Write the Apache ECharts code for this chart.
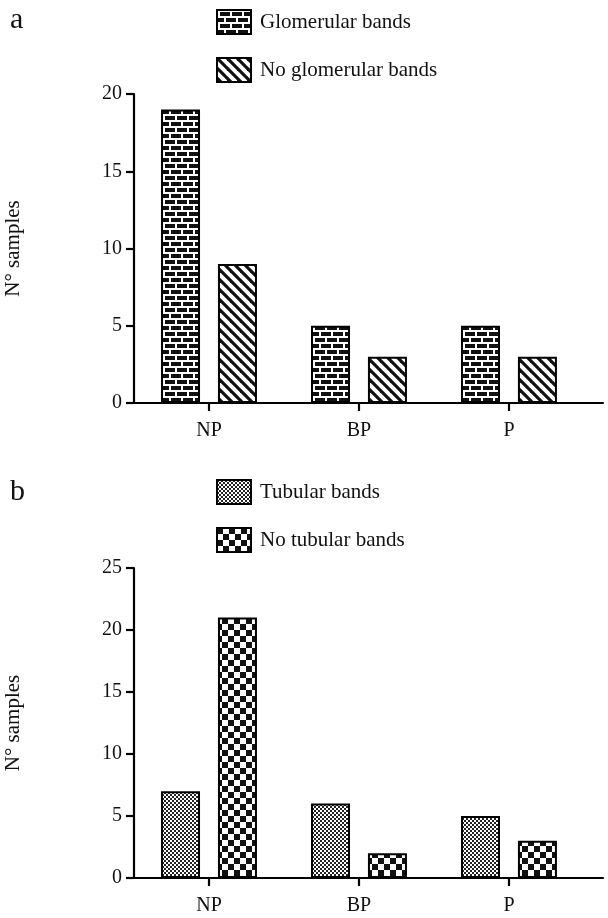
<!DOCTYPE html>
<html>
<head>
<meta charset="utf-8">
<script src="https://cdn.jsdelivr.net/npm/echarts@6/dist/echarts.min.js"></script>
<style>
html,body{margin:0;padding:0;background:#fff;}
#chart{width:608px;height:918px;}
</style>
</head>
<body>
<div id="chart"></div>
<script>
// ---- data ----
const categories = ['NP', 'BP', 'P'];
const catPositions = [0.5, 1.5, 2.5];
const glomerular = [19, 5, 5];
const noGlomerular = [9, 3, 3];
const tubular = [7, 6, 5];
const noTubular = [21, 2, 3];
const yTicksA = [0, 5, 10, 15, 20];
const yTicksB = [0, 5, 10, 15, 20, 25];
const namesA = ['Glomerular bands', 'No glomerular bands'];
const namesB = ['Tubular bands', 'No tubular bands'];

// ---- patterns ----
function mk(w, h, draw) {
  const c = document.createElement('canvas');
  c.width = w; c.height = h;
  draw(c.getContext('2d'));
  return { image: c, repeat: 'repeat' };
}
const brick = mk(12, 12, g => {
  g.fillStyle = '#111'; g.fillRect(0, 0, 12, 12);
  g.fillStyle = '#fff';
  g.fillRect(0, 0, 12, 2); g.fillRect(0, 6, 12, 2);
  g.fillRect(1, 2, 2, 4); g.fillRect(7, 8, 2, 4);
});
const hatch = mk(10, 10, g => {
  g.fillStyle = '#fff'; g.fillRect(0, 0, 10, 10);
  g.strokeStyle = '#111'; g.lineWidth = 3.2;
  for (let k = -1; k <= 1; k++) {
    g.beginPath(); g.moveTo(k * 10 - 2, -2); g.lineTo(k * 10 + 12, 12); g.stroke();
  }
});
const fine = mk(4, 4, g => {
  g.fillStyle = '#fff'; g.fillRect(0, 0, 4, 4);
  g.fillStyle = '#222'; g.fillRect(0, 0, 2, 2); g.fillRect(2, 2, 2, 2);
});
const coarse = mk(12, 12, g => {
  g.fillStyle = '#fff'; g.fillRect(0, 0, 12, 12);
  g.fillStyle = '#111'; g.fillRect(0, 0, 6, 6); g.fillRect(6, 6, 6, 6);
});

const FONT = "'Liberation Serif', 'Times New Roman', serif";
const INK = '#000';
const TXT = '#111';
const pts = vals => vals.map((v, i) => [catPositions[i], v]);

function xAxis(gi) {
  return {
    type: 'value', gridIndex: gi, min: 0, max: 3.127,
    axisLine: { show: true, lineStyle: { color: INK, width: 2.2 } },
    axisTick: { show: true, customValues: catPositions, length: 8, lineStyle: { color: INK, width: 2.2 } },
    axisLabel: {
      customValues: catPositions, margin: 18,
      formatter: v => categories[catPositions.indexOf(v)] || '',
      fontFamily: FONT, fontSize: 20, color: TXT
    },
    splitLine: { show: false }
  };
}
function yAxis(gi, ticks) {
  return {
    type: 'value', gridIndex: gi, min: ticks[0], max: ticks[ticks.length - 1], interval: ticks[1] - ticks[0],
    name: 'N° samples', nameLocation: 'middle', nameGap: 110,
    nameTextStyle: { fontFamily: FONT, fontSize: 21, color: TXT },
    axisLine: { show: true, lineStyle: { color: INK, width: 2.2 } },
    axisTick: { show: true, length: 8, lineStyle: { color: INK, width: 2.2 } },
    axisLabel: { margin: 12, fontFamily: FONT, fontSize: 20, color: TXT },
    splitLine: { show: false }
  };
}
function bar(name, vals, pat, gi) {
  return {
    type: 'bar', name, data: pts(vals), xAxisIndex: gi, yAxisIndex: gi,
    barWidth: 39, barGap: '46%',
    itemStyle: { color: pat, borderColor: INK, borderWidth: 2 },
    emphasis: { disabled: true }, animation: false
  };
}
function legend(names, pats, top) {
  return {
    orient: 'vertical', left: 211, top: top, itemWidth: 34, itemHeight: 24, itemGap: 22,
    icon: 'rect', selectedMode: false,
    textStyle: { fontFamily: FONT, fontSize: 21, color: TXT, padding: [0, 0, 0, 4] },
    data: names.map((n, i) => ({ name: n, itemStyle: { color: pats[i], borderColor: INK, borderWidth: 2 } }))
  };
}

const chart = echarts.init(document.getElementById('chart'), null, { renderer: 'canvas' });
chart.setOption({
  animation: false,
  backgroundColor: '#fff',
  title: [
    { text: 'a', left: 5, top: 0, textStyle: { fontFamily: FONT, fontSize: 30, fontWeight: 'normal', color: TXT } },
    { text: 'b', left: 5, top: 472, textStyle: { fontFamily: FONT, fontSize: 30, fontWeight: 'normal', color: TXT } }
  ],
  legend: [legend(namesA, [brick, hatch], 4), legend(namesB, [fine, coarse], 474)],
  grid: [
    { left: 134, top: 94, width: 469, height: 309, containLabel: false, outerBoundsMode: 'none' },
    { left: 134, top: 568, width: 469, height: 310, containLabel: false, outerBoundsMode: 'none' }
  ],
  xAxis: [xAxis(0), xAxis(1)],
  yAxis: [yAxis(0, yTicksA), yAxis(1, yTicksB)],
  series: [
    bar(namesA[0], glomerular, brick, 0),
    bar(namesA[1], noGlomerular, hatch, 0),
    bar(namesB[0], tubular, fine, 1),
    bar(namesB[1], noTubular, coarse, 1)
  ]
});
</script>
</body>
</html>
